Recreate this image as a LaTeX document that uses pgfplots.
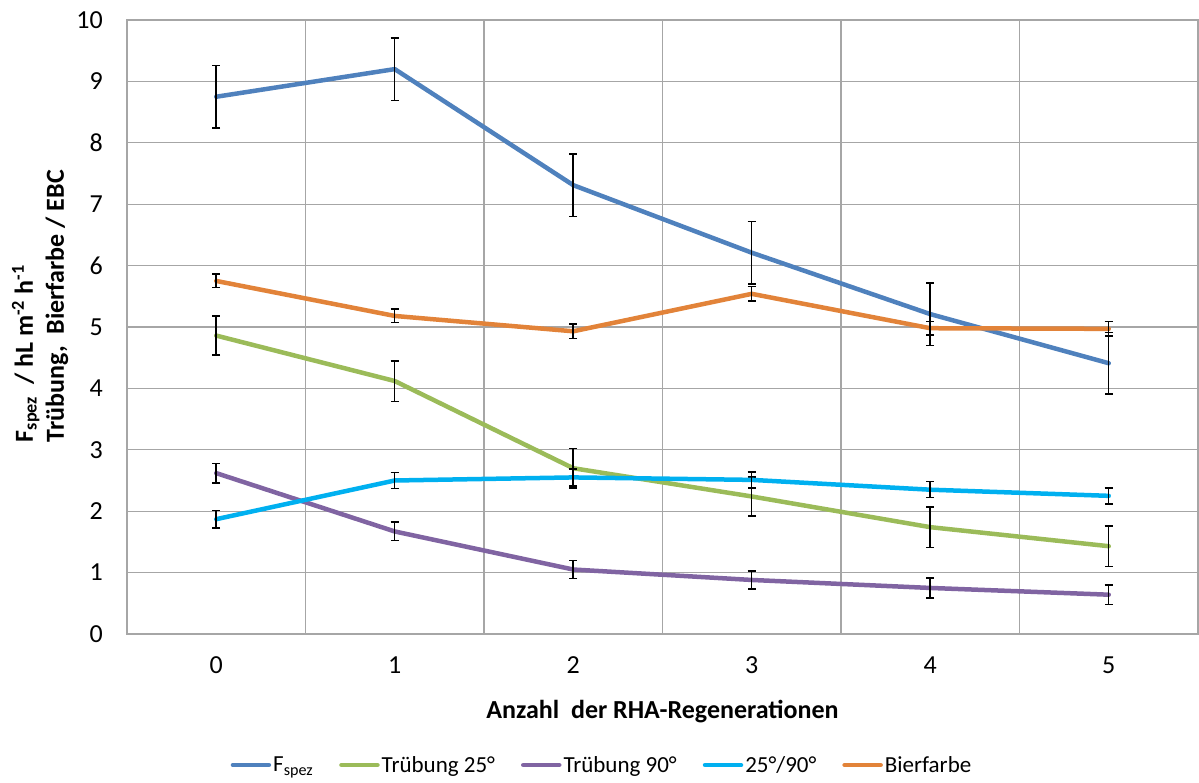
\documentclass[border=0pt]{standalone}
\usepackage{fontspec}
\setmainfont{Carlito}
\usepackage{pgfplots}
\pgfplotsset{compat=1.18}
\definecolor{cblue}{RGB}{79,129,189}
\definecolor{cgreen}{RGB}{155,187,89}
\definecolor{cpurple}{RGB}{128,100,162}
\definecolor{ccyan}{RGB}{0,176,240}
\definecolor{corange}{RGB}{226,131,57}
\definecolor{cgrid}{RGB}{166,166,166}
\pgfplotsset{
  serie/.style={#1, line width=4.5pt, line join=round, line cap=round,
    error bars/.cd, y dir=both, y explicit,
    error bar style={black, line width=1.5pt, line cap=butt},
    error mark options={black, rotate=90, mark size=4pt, line width=1.5pt}},
}
\begin{document}
\begin{tikzpicture}
\useasboundingbox (-127pt,-149pt) rectangle (1072pt,634pt);
\begin{axis}[
  at={(0,0)}, anchor=south west, scale only axis,
  width=1071pt, height=614pt,
  xmin=-0.5, xmax=5.5, ymin=0, ymax=10,
  xtick={0,1,2,3,4,5}, ytick={0,1,...,10},
  minor xtick={-0.5,0.5,1.5,2.5,3.5,4.5,5.5},
  xminorgrids=true, ymajorgrids=true,
  grid style={draw=cgrid, line width=1.3pt},
  minor grid style={draw=cgrid, line width=1.3pt},
  axis line style={draw=cgrid, line width=1.3pt},
  major tick length=0pt, minor tick length=0pt,
  tick style={draw=none},
  /pgf/number format/assume math mode=true,
  tick label style={font=\fontsize{26}{30}\selectfont, inner sep=0pt},
  xticklabel style={anchor=center, yshift=-31pt},
  yticklabel style={anchor=east, xshift=-24pt},
  xlabel={\bfseries Anzahl\ \ der RHA-Regenerationen},
  xlabel style={at={(axis description cs:0.5,-0.127)}, anchor=center, font=\fontsize{26}{30}\selectfont},
  ylabel={\bfseries F\textsubscript{spez}\ \ / hL m\textsuperscript{-2} h\textsuperscript{-1}\\\bfseries Trübung,\ \ Bierfarbe / EBC},
  ylabel style={at={(axis description cs:-0.0812,0.534)}, anchor=center, rotate=0, align=left, font=\fontsize{26}{31}\selectfont},
  legend columns=5,
  legend style={at={(axis description cs:0.4435,-0.2134)}, anchor=center, draw=none, fill=none,
    font=\fontsize{23}{27}\selectfont, inner sep=0pt,
    /tikz/every even column/.append style={column sep=24pt}},
  legend image code/.code={\draw[#1, line width=4.5pt, line cap=round] (0pt,0pt) -- (36pt,0pt);},
]
\addplot[serie=cblue] table[x=x, y=y, y error=e] {
x y e
0 8.75 0.51
1 9.20 0.51
2 7.31 0.51
3 6.21 0.51
4 5.21 0.51
5 4.41 0.50
};
\addlegendentry{F\textsubscript{spez}}
\addplot[serie=cgreen] table[x=x, y=y, y error=e] {
x y e
0 4.86 0.32
1 4.12 0.33
2 2.70 0.32
3 2.24 0.32
4 1.74 0.33
5 1.43 0.33
};
\addlegendentry{Trübung 25°}
\addplot[serie=cpurple] table[x=x, y=y, y error=e] {
x y e
0 2.62 0.16
1 1.67 0.15
2 1.05 0.15
3 0.88 0.15
4 0.75 0.16
5 0.64 0.16
};
\addlegendentry{Trübung 90°}
\addplot[serie=ccyan] table[x=x, y=y, y error=e] {
x y e
0 1.87 0.14
1 2.50 0.13
2 2.55 0.14
3 2.51 0.13
4 2.35 0.13
5 2.25 0.13
};
\addlegendentry{25°/90°}
\addplot[serie=corange] table[x=x, y=y, y error=e] {
x y e
0 5.75 0.11
1 5.18 0.11
2 4.93 0.12
3 5.54 0.12
4 4.98 0.11
5 4.97 0.12
};
\addlegendentry{Bierfarbe}
\end{axis}
\end{tikzpicture}
\end{document}
